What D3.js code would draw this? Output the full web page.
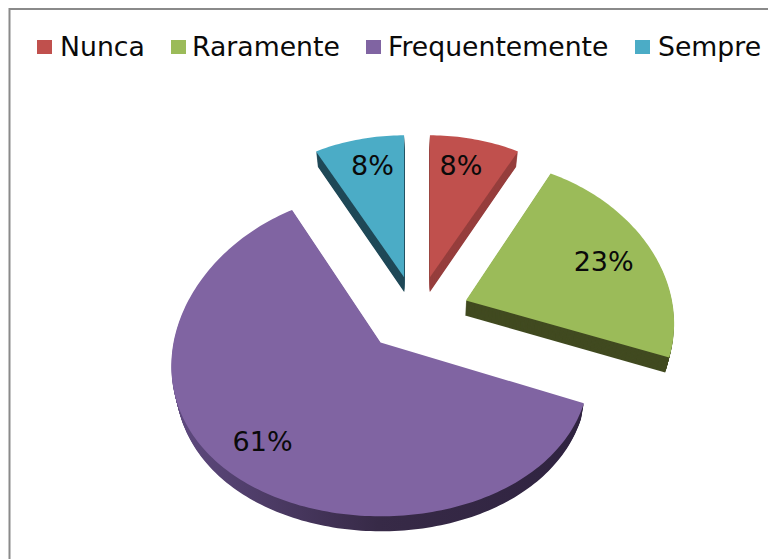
<!DOCTYPE html>
<html>
<head>
<meta charset="utf-8">
<script src="https://cdn.jsdelivr.net/npm/d3@7"></script>
<style>
  html, body { margin: 0; padding: 0; background: #fff; }
  svg { display: block; }
  text { font-family: "DejaVu Sans", Verdana, sans-serif; fill: #0a0a0a; }
</style>
</head>
<body>
<svg id="chart" width="768" height="559"></svg>
<script>
// data
var categories = ["Nunca", "Raramente", "Frequentemente", "Sempre"]
var values = [8, 23, 61, 8]
var colors = ["#c0504d", "#9bbb59", "#8064a2", "#4bacc6"]
var wall_colors = ["#963f3d", "#414a20", "#4a3a63", "#1f4857"]

// layout, per slice where the 3d view of the original is not quite regular
var center = {x: 417, y: 313}
var explode = {x: 52, y: 37}
var explode_k = [1, 1, 1.06, 1]
var radius_x = [206, 206, 207, 206]
var radius_y = [157, 157, 161, 157]
var persp_x = 0.145
var persp_y = [0.107, 0.107, 0.074, 0.107]
var turn = [0, -0.02, 0, 0]
var depth = 15
var shrink = 0.016
var label_radius = [0.78, 0.72, 0.8, 0.77]
var label_dx = [-5, 3, 2, 4]
var label_dy = [-2, -2, -2, -3]
var legend_x = [37, 171, 366, 635]
var legend_text_x = [60, 192, 388, 658]

var svg = d3.select("#chart")

// frame, open at the right and bottom of the crop
svg.append("path")
  .attr("d", "M9.5,559V9H768")
  .attr("fill", "none")
  .attr("stroke", "#8a8a8a")
  .attr("stroke-width", 2)

// darker rim on the big slice goes from left to right
var grad = svg.append("defs").append("linearGradient")
  .attr("id", "rim")
  .attr("gradientUnits", "userSpaceOnUse")
  .attr("x1", 171).attr("x2", 585).attr("y1", 0).attr("y2", 0)
grad.append("stop").attr("offset", 0).attr("stop-color", "#5f4a80")
grad.append("stop").attr("offset", 0.5).attr("stop-color", "#372a47")
grad.append("stop").attr("offset", 1).attr("stop-color", "#2f2340")

var pie = d3.pie().sort(null).value(function(d) { return d })
var arcs = pie(values)

// angle + radius on the flat pie to a screen offset, nearer means bigger
function project(angle, r, i) {
  var u = Math.sin(angle) * r
  var v = -Math.cos(angle) * r
  return [
    radius_x[i] * u / (1 - persp_x * v),
    radius_y[i] * v / (1 - persp_y[i] * v)
  ]
}

function mid_angle(d) {
  return (d.startAngle + d.endAngle) / 2
}

function apex(d, i) {
  return [
    center.x + explode.x * explode_k[i] * Math.sin(mid_angle(d)),
    center.y - explode.y * explode_k[i] * Math.cos(mid_angle(d))
  ]
}

function outline(d, i) {
  var o = apex(d, i)
  var steps = Math.ceil((d.endAngle - d.startAngle) / 0.02)
  var pts = [o]
  d3.range(steps + 1).forEach(function(s) {
    var a = d.startAngle + turn[i] + (d.endAngle - d.startAngle) * s / steps
    var p = project(a, 1, i)
    pts.push([o[0] + p[0], o[1] + p[1]])
  })
  return pts
}

var line = d3.line()

var slices = svg.selectAll(".slice")
  .data(arcs)
  .enter()
  .append("g")
  .attr("class", "slice")

// side walls: the outline stacked downwards, narrowing a bit towards the floor
slices.each(function(d, i) {
  var pts = outline(d, i)
  d3.select(this).selectAll("path.wall")
    .data(d3.range(depth, 0, -1))
    .enter()
    .append("path")
    .attr("class", "wall")
    .attr("d", function(t) {
      var k = 1 - shrink * t / depth
      return line(pts.map(function(p) {
        return [center.x + (p[0] - center.x) * k, p[1] + t]
      })) + "Z"
    })
    .attr("fill", i == 2 ? "url(#rim)" : wall_colors[i])
})

slices.append("path")
  .attr("d", function(d, i) { return line(outline(d, i)) + "Z" })
  .attr("fill", function(d, i) { return colors[i] })

// percent labels
slices.append("text")
  .attr("x", function(d, i) {
    return apex(d, i)[0] + project(mid_angle(d), label_radius[i], i)[0] + label_dx[i]
  })
  .attr("y", function(d, i) {
    return apex(d, i)[1] + project(mid_angle(d), label_radius[i], i)[1] + label_dy[i]
  })
  .attr("dy", "0.36em")
  .attr("text-anchor", "middle")
  .attr("font-size", 27)
  .text(function(d) { return d.value + "%" })

// legend
var legend = svg.selectAll(".legend")
  .data(categories)
  .enter()
  .append("g")
  .attr("class", "legend")

legend.append("rect")
  .attr("x", function(d, i) { return legend_x[i] })
  .attr("y", 40)
  .attr("width", 15)
  .attr("height", 14)
  .attr("fill", function(d, i) { return colors[i] })

legend.append("text")
  .attr("x", function(d, i) { return legend_text_x[i] })
  .attr("y", 56)
  .attr("font-size", 26.7)
  .text(function(d) { return d })
</script>
</body>
</html>
